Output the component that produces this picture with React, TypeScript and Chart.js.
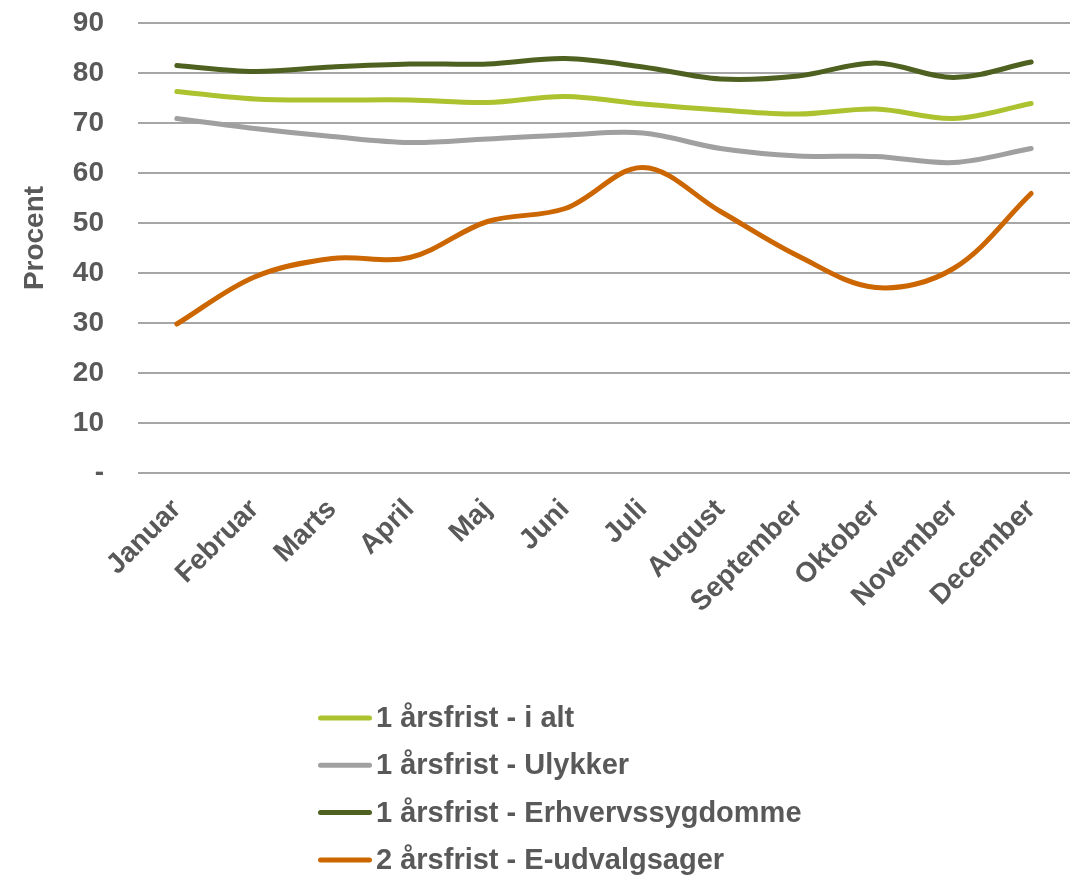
import React, { useEffect, useRef } from "react";
import { Chart, registerables } from "chart.js";

Chart.register(...registerables);

const months = [
  "Januar", "Februar", "Marts", "April", "Maj", "Juni",
  "Juli", "August", "September", "Oktober", "November", "December",
];
const yTicks = [0, 10, 20, 30, 40, 50, 60, 70, 80, 90];
const yTitle = "Procent";

const iAlt = [76.3, 74.8, 74.6, 74.6, 74.1, 75.3, 73.8, 72.6, 71.8, 72.8, 70.9, 73.9];
const ulykker = [70.9, 68.9, 67.3, 66.1, 66.8, 67.6, 68.0, 64.9, 63.4, 63.3, 62.1, 64.9];
const erhverv = [81.5, 80.3, 81.2, 81.8, 81.8, 82.9, 81.2, 78.8, 79.4, 82.0, 79.1, 82.2];
const eUdvalg = [29.8, 39.2, 42.9, 43.1, 50.3, 52.9, 61.1, 52.3, 43.4, 37.1, 40.9, 55.9];

const seriesLabels = [
  "1 årsfrist - i alt",
  "1 årsfrist - Ulykker",
  "1 årsfrist - Erhvervssygdomme",
  "2 årsfrist - E-udvalgsager",
];
const seriesColors = ["#ADC22F", "#A0A0A0", "#4E6120", "#CC6600"];

const FONT = '"Liberation Sans", Arial, sans-serif';
const TEXT = "#595959";

const legendPlugin = {
  id: "verticalLegend",
  afterDraw(chart: any) {
    const ctx = chart.ctx;
    const area = chart.chartArea;
    ctx.save();
    // y-axis title
    ctx.font = `bold 28px ${FONT}`;
    ctx.fillStyle = TEXT;
    ctx.textAlign = "center";
    ctx.textBaseline = "middle";
    ctx.translate(35, (area.top + area.bottom) / 2 - 10);
    ctx.rotate(-Math.PI / 2);
    ctx.fillText(yTitle, 0, 0);
    ctx.restore();

    ctx.save();
    ctx.font = `bold 29px ${FONT}`;
    ctx.textBaseline = "middle";
    ctx.textAlign = "left";
    chart.data.datasets.forEach((ds: any, i: number) => {
      const y = area.bottom + 245 + i * 47.3;
      const x0 = 320.5;
      ctx.strokeStyle = ds.borderColor;
      ctx.lineWidth = 5;
      ctx.lineCap = "round";
      ctx.beginPath();
      ctx.moveTo(x0, y);
      ctx.lineTo(x0 + 49, y);
      ctx.stroke();
      ctx.fillStyle = TEXT;
      ctx.fillText(ds.label, x0 + 55.5, y + 1);
    });
    ctx.restore();
  },
};

export default function App() {
  const ref = useRef<HTMLCanvasElement | null>(null);

  useEffect(() => {
    document.body.style.margin = "0";
    const canvas = ref.current;
    if (!canvas) return;
    const data = [iAlt, ulykker, erhverv, eUdvalg];
    const chart = new Chart(canvas, {
      type: "line",
      data: {
        labels: months,
        datasets: data.map((d, i) => ({
          label: seriesLabels[i],
          data: d,
          borderColor: seriesColors[i],
          backgroundColor: seriesColors[i],
          borderWidth: 5,
          pointRadius: 0,
          tension: 0.35,
          borderCapStyle: "round" as const,
          borderJoinStyle: "round" as const,
          fill: false,
        })),
      },
      options: {
        responsive: false,
        animation: false,
        devicePixelRatio: 1,
        layout: { padding: { top: 23, right: 4, left: 0, bottom: 0 } },
        plugins: {
          legend: { display: false },
          tooltip: { enabled: false },
        },
        scales: {
          x: {
            type: "category",
            offset: true,
            grid: { display: false },
            border: { display: false },
            ticks: {
              maxRotation: 45,
              minRotation: 45,
              autoSkip: false,
              padding: 12,
              color: TEXT,
              font: { family: FONT, size: 28, weight: "bold" },
            },
            afterFit: (s: any) => {
              s.height = 403;
              s.paddingLeft = 0;
              s.paddingRight = 0;
            },
          },
          y: {
            min: 0,
            max: 90,
            afterBuildTicks: (s: any) => {
              s.ticks = yTicks.map((v) => ({ value: v }));
            },
            grid: { color: "#A6A6A6", lineWidth: 2, drawTicks: false },
            border: { display: false },
            ticks: {
              padding: 34,
              color: TEXT,
              font: { family: FONT, size: 28, weight: "bold" },
              callback: (v: any) => (Number(v) === 0 ? "-" : String(v)),
            },
            afterFit: (s: any) => {
              s.width = 138;
              s.paddingTop = 0;
              s.paddingBottom = 0;
            },
          },
        },
      },
      plugins: [legendPlugin],
    });
    return () => chart.destroy();
  }, []);

  return (
    <div style={{ position: "absolute", left: 0, top: 0, width: 1074, height: 876 }}>
      <canvas ref={ref} width={1074} height={876} style={{ display: "block" }} />
    </div>
  );
}
